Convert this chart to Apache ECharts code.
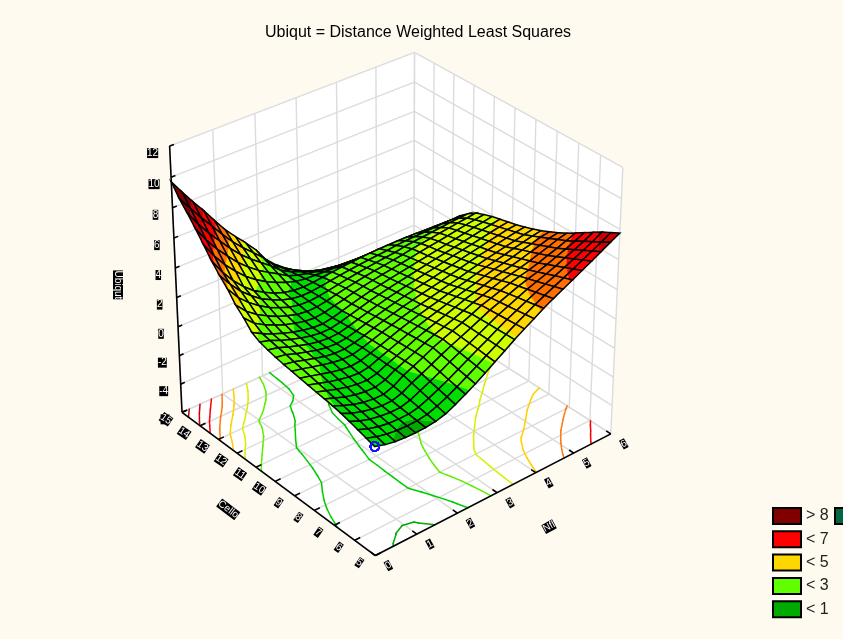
<!doctype html>
<html><head><meta charset="utf-8">
<style>html,body{margin:0;background:#fffaf0}</style>
<script src="https://cdn.jsdelivr.net/npm/echarts@6/dist/echarts.min.js"></script>
</head><body><div id="c" style="width:843px;height:639px"></div>
<script>
const titleText='Ubiqut = Distance Weighted Least Squares';
const xTicks=[0,1,2,3,4,5,6];
const yTicks=[5,6,7,8,9,10,11,12,13,14,15];
const zTicks=[-6,-4,-2,0,2,4,6,8,10,12];
const xName='Nfl', yName='Cello', zName='Ubiqut';
const legendNames=['> 8','< 7','< 5','< 3','< 1','< -1'];
const legendColors=['#800000','#ff0000','#ffd700','#60ff00','#00aa00','#006644'];
const bandEdges=[-1,0,1,2,3,4,5,6,7,8];
const bandColors=['#006644','#008a22','#00aa00','#00dd00','#60ff00','#ccff00','#ffd700','#ff6f00','#ff0000','#cc0000','#800000'];
// rows: y = 5 .. 15 in 25 steps, columns: x = 0 .. 6 in 25 steps
const zRows=[
[1.30,1.10,.97,.91,.90,.92,1.00,1.18,1.48,1.84,2.22,2.63,3.06,3.48,3.92,4.32,4.70,5.09,5.43,5.76,6.08,6.41,6.74,7.08,7.42,7.75],
[1.46,1.23,1.08,.99,.96,.98,1.09,1.31,1.61,1.96,2.33,2.71,3.11,3.49,3.90,4.28,4.62,4.97,5.29,5.58,5.87,6.17,6.48,6.79,7.11,7.45],
[1.62,1.36,1.18,1.07,1.03,1.04,1.18,1.45,1.75,2.08,2.44,2.80,3.16,3.51,3.88,4.23,4.54,4.85,5.15,5.41,5.66,5.93,6.21,6.50,6.79,7.15],
[1.78,1.49,1.29,1.16,1.09,1.10,1.27,1.58,1.88,2.21,2.56,2.88,3.20,3.52,3.86,4.19,4.46,4.74,5.00,5.23,5.44,5.68,5.95,6.20,6.48,6.80],
[1.93,1.62,1.40,1.24,1.15,1.16,1.36,1.72,2.02,2.33,2.67,2.97,3.25,3.54,3.84,4.14,4.38,4.62,4.86,5.06,5.23,5.44,5.68,5.91,6.16,6.45],
[2.04,1.75,1.50,1.32,1.22,1.22,1.45,1.85,2.15,2.45,2.78,3.05,3.30,3.55,3.82,4.10,4.30,4.50,4.72,4.88,5.02,5.20,5.42,5.62,5.85,6.09],
[2.12,1.86,1.62,1.45,1.34,1.32,1.50,1.86,2.14,2.42,2.72,2.98,3.21,3.44,3.69,3.94,4.13,4.32,4.53,4.69,4.83,5.00,5.20,5.39,5.60,5.75],
[2.20,1.97,1.75,1.57,1.45,1.41,1.56,1.86,2.12,2.39,2.67,2.91,3.13,3.34,3.56,3.79,3.97,4.15,4.34,4.50,4.64,4.80,4.98,5.15,5.34,5.45],
[2.28,2.08,1.87,1.70,1.57,1.51,1.61,1.87,2.11,2.36,2.61,2.84,3.04,3.23,3.43,3.63,3.80,3.97,4.16,4.32,4.46,4.60,4.77,4.92,5.09,5.18],
[2.36,2.19,2.00,1.82,1.68,1.60,1.67,1.87,2.09,2.33,2.56,2.77,2.96,3.13,3.30,3.48,3.64,3.80,3.97,4.13,4.27,4.40,4.55,4.68,4.83,4.92],
[2.45,2.30,2.12,1.95,1.80,1.70,1.72,1.88,2.08,2.30,2.50,2.70,2.87,3.02,3.17,3.32,3.47,3.62,3.78,3.94,4.08,4.20,4.33,4.45,4.58,4.70],
[2.53,2.40,2.20,2.01,1.84,1.73,1.72,1.84,2.02,2.24,2.43,2.62,2.79,2.94,3.08,3.22,3.36,3.50,3.65,3.80,3.94,4.05,4.18,4.30,4.42,4.50],
[2.63,2.51,2.27,2.07,1.89,1.76,1.72,1.80,1.97,2.17,2.36,2.55,2.71,2.85,2.99,3.12,3.25,3.39,3.52,3.66,3.79,3.91,4.03,4.15,4.27,4.33],
[2.76,2.61,2.35,2.13,1.93,1.79,1.72,1.76,1.91,2.11,2.29,2.47,2.63,2.77,2.90,3.02,3.15,3.27,3.40,3.53,3.65,3.76,3.88,4.00,4.11,4.19],
[2.92,2.72,2.42,2.19,1.98,1.82,1.72,1.72,1.86,2.04,2.22,2.40,2.55,2.68,2.81,2.92,3.04,3.16,3.27,3.39,3.50,3.62,3.73,3.85,3.96,4.05],
[3.20,2.82,2.50,2.25,2.02,1.85,1.72,1.68,1.80,1.98,2.15,2.32,2.47,2.60,2.72,2.82,2.93,3.04,3.14,3.25,3.36,3.47,3.58,3.70,3.80,3.90],
[3.80,3.15,2.75,2.44,2.16,1.96,1.80,1.73,1.81,1.96,2.12,2.28,2.42,2.54,2.65,2.74,2.84,2.94,3.05,3.15,3.24,3.34,3.44,3.54,3.63,3.72],
[4.30,3.59,3.09,2.70,2.36,2.11,1.91,1.81,1.83,1.94,2.08,2.22,2.35,2.46,2.56,2.64,2.73,2.82,2.94,3.02,3.10,3.19,3.27,3.35,3.42,3.50],
[5.00,4.15,3.53,3.03,2.61,2.31,2.05,1.90,1.86,1.92,2.01,2.13,2.24,2.34,2.43,2.50,2.57,2.63,2.75,2.82,2.87,2.93,2.98,3.04,3.08,3.12],
[5.56,4.68,3.94,3.35,2.84,2.49,2.18,1.98,1.88,1.88,1.95,2.05,2.14,2.22,2.28,2.34,2.39,2.43,2.51,2.55,2.57,2.59,2.61,2.63,2.63,2.65],
[6.18,5.15,4.30,3.62,3.05,2.65,2.30,2.06,1.90,1.85,1.88,1.95,2.02,2.08,2.13,2.17,2.20,2.22,2.22,2.22,2.20,2.18,2.15,2.12,2.08,2.05],
[6.91,5.87,5.01,4.30,3.66,3.16,2.73,2.40,2.12,1.89,1.78,1.74,1.70,1.67,1.65,1.64,1.63,1.62,1.59,1.57,1.53,1.50,1.47,1.44,1.41,1.45],
[7.62,6.59,5.72,4.97,4.26,3.67,3.16,2.74,2.34,1.93,1.69,1.52,1.38,1.26,1.18,1.12,1.07,1.02,.96,.92,.87,.83,.79,.76,.75,.78],
[8.30,7.31,6.43,5.65,4.87,4.18,3.59,3.07,2.56,1.97,1.59,1.31,1.06,.84,.70,.59,.50,.42,.33,.26,.20,.15,.11,.08,.08,.05],
[8.92,8.03,7.14,6.32,5.47,4.69,4.02,3.41,2.78,2.01,1.50,1.09,.74,.43,.23,.07,-.07,-.18,-.30,-.39,-.47,-.53,-.57,-.60,-.59,-.60],
[9.70,8.75,7.85,7.00,6.08,5.20,4.45,3.75,3.00,2.05,1.40,.88,.42,.02,-.25,-.46,-.63,-.78,-.92,-1.04,-1.13,-1.20,-1.25,-1.27,-1.25,-1.20]
];
// temporary: circle marks read as picture positions, resolved on the surface
const seen=[[236,255],[264,293],[261,305],[262,319],[303,313],[287,329],[292,333],[320,326],[316,332],[301,337],[307,341],[292,345],[314,344],[323,344],[313,350],[336,345],[335,348],[337,354],[289,356],[297,357],[318,360],[322,361],[334,374],[352,304],[368,292],[355,329],[373,326],[376,326],[374,342],[376,359],[364,402],[373,422],[376,418],[371,423],[376,427],[387,432],[395,413],[495,258],[419,291],[402,310],[427,345]];
const seenUnder=[[292,372],[303,382]];

const N=zRows.length-1, X0=xTicks[0],X1=xTicks[xTicks.length-1],Y0=yTicks[0],Y1=yTicks[yTicks.length-1],Z0=zTicks[0],Z1=zTicks[zTicks.length-1];
const nodeX=i=>X0+(X1-X0)*i/N, nodeY=j=>Y0+(Y1-Y0)*j/N;

// camera fitted to the box corners
const anchors=[[X0,Y0,Z0,375,556],[X1,Y0,Z0,611,433],[X0,Y1,Z0,182,412],[X1,Y1,Z0,414,308],[X0,Y1,Z1,170,146],[X1,Y0,Z1,623,168],[X1,Y1,Z1,414,52]];
function fitCamera(){
  const A=[],b=[];
  anchors.forEach(([x,y,z,u,v])=>{
    A.push([x,y,z,1,0,0,0,0,-u*x,-u*y,-u*z]);b.push(u);
    A.push([0,0,0,0,x,y,z,1,-v*x,-v*y,-v*z]);b.push(v);
  });
  const n=11,M=[];
  for(let r=0;r<n;r++){M.push([]);for(let c=0;c<n;c++){let s=0;A.forEach(a=>s+=a[r]*a[c]);M[r].push(s);}let s=0;A.forEach((a,k)=>s+=a[r]*b[k]);M[r].push(s);}
  for(let c=0;c<n;c++){let p=c;for(let r=c+1;r<n;r++)if(Math.abs(M[r][c])>Math.abs(M[p][c]))p=r;[M[c],M[p]]=[M[p],M[c]];
    for(let r=0;r<n;r++)if(r!==c){const f=M[r][c]/M[c][c];for(let k=c;k<=n;k++)M[r][k]-=f*M[c][k];}}
  return M.map((row,i)=>row[n]/row[i]);
}
const P=fitCamera();
function project(x,y,z){const w=P[8]*x+P[9]*y+P[10]*z+1;return [(P[0]*x+P[1]*y+P[2]*z+P[3])/w,(P[4]*x+P[5]*y+P[6]*z+P[7])/w];}

// resolve seen
function surf(fi,fj){const i=Math.min(N-1,Math.floor(fi)),j=Math.min(N-1,Math.floor(fj)),a=fi-i,b=fj-j;return (1-a)*(1-b)*zRows[j][i]+a*(1-b)*zRows[j][i+1]+(1-a)*b*zRows[j+1][i]+a*b*zRows[j+1][i+1];}
function resolve(s,dz){let best=null,bd=1e9;for(let a=0;a<=N;a+=.1)for(let b=0;b<=N;b+=.1){const z=surf(a,b)+dz,p=project(nodeX(a),nodeY(b),z),d=Math.hypot(p[0]-s[0],p[1]-s[1]);if(d<1.5&&(a+b)<(best?best[3]:1e9)||(!best&&d<bd)){if(d<bd||d<1.5){best=[nodeX(a),nodeY(b),z,a+b];bd=d;}}}return best;}
const pointsTop=seen.map(s=>resolve(s,0).slice(0,3));
const pointsUnder=seenUnder.map(s=>{const p=project(0,0,0);return resolve(s,0).slice(0,3);});

const wallPolys=[[X0,Y1,Z0,X1,Y1,Z0,X1,Y1,Z1,X0,Y1,Z1],[X1,Y0,Z0,X1,Y1,Z0,X1,Y1,Z1,X1,Y0,Z1],[X0,Y0,Z0,X1,Y0,Z0,X1,Y1,Z0,X0,Y1,Z0]];
const gridSegs=[];
xTicks.forEach(x=>{gridSegs.push([x,Y1,Z0,x,Y1,Z1],[x,Y0,Z0,x,Y1,Z0]);});
yTicks.forEach(y=>{gridSegs.push([X1,y,Z0,X1,y,Z1],[X0,y,Z0,X1,y,Z0]);});
zTicks.forEach(z=>{gridSegs.push([X0,Y1,z,X1,Y1,z],[X1,Y0,z,X1,Y1,z]);});
const axisSegs=[[X0,Y1,Z0,X0,Y1,Z1],[X0,Y0,Z0,X0,Y1,Z0],[X0,Y0,Z0,X1,Y0,Z0]];
xTicks.forEach(x=>axisSegs.push([x,Y0,Z0,x,Y0+.22,Z0]));
yTicks.forEach(y=>axisSegs.push([X0,y,Z0,X0+.13,y,Z0]));
zTicks.forEach(z=>axisSegs.push([X0,Y1,z,X0+.1,Y1,z]));

// contour lines on the floor, from the surface values
const contourSegs=[];
bandEdges.concat([9]).forEach((lv,li)=>{
  for(let j=0;j<N;j++)for(let i=0;i<N;i++){
    const c=[[i,j],[i+1,j],[i+1,j+1],[i,j+1]],pts=[];
    for(let k=0;k<4;k++){const [a,b]=[c[k],c[(k+1)%4]],za=zRows[a[1]][a[0]],zb=zRows[b[1]][b[0]];
      if((za<lv)!==(zb<lv)){const t=(lv-za)/(zb-za);pts.push([nodeX(a[0]+t*(b[0]-a[0])),nodeY(a[1]+t*(b[1]-a[1]))]);}}
    for(let k=0;k+1<pts.length;k+=2)contourSegs.push([pts[k][0],pts[k][1],pts[k+1][0],pts[k+1][1],li]);
  }
});
const contourColors=['#006644','#008a22','#00aa00','#00cc00','#60ee00','#d8f000','#ffd000','#ff7a10','#ff0000','#cc0000','#a01010'];

const cells=[];for(let i=N-1;i>=0;i--)for(let j=N-1;j>=0;j--)cells.push([i,j]);

function clipBand(poly,lo,hi){
  const clip=(pl,keep,lv)=>{const out=[];pl.forEach((p,k)=>{const q=pl[(k+1)%pl.length],kp=keep(p[2]),kq=keep(q[2]);
    if(kp)out.push(p);if(kp!==kq){const t=(lv-p[2])/(q[2]-p[2]);out.push([p[0]+t*(q[0]-p[0]),p[1]+t*(q[1]-p[1]),lv]);}});return out;};
  let r=poly;
  if(lo>-1e8)r=clip(r,z=>z>=lo,lo);
  if(r.length&&hi<1e8)r=clip(r,z=>z<=hi,hi);
  return r;
}
const base={type:'custom',coordinateSystem:'cartesian2d',silent:true,animation:false,clip:false};
function segSeries(data,style,z){return Object.assign({},base,{z,data,encode:{x:0,y:1},renderItem(p,api){
  const a=api.coord(project(api.value(0),api.value(1),api.value(2))),b=api.coord(project(api.value(3),api.value(4),api.value(5)));
  return {type:'line',shape:{x1:a[0],y1:a[1],x2:b[0],y2:b[1]},style};}});}
const labelStyle={fill:'#fff',backgroundColor:'#000',font:'10px "Liberation Sans"',align:'center',verticalAlign:'middle'};
function textSeries(items,z){return Object.assign({},base,{z,data:items.map((t,k)=>[k]),renderItem(p,api){
  const t=items[api.value(0)],a=api.coord(project(t.at[0],t.at[1],t.at[2]));
  return {type:'text',x:a[0]+t.off[0],y:a[1]+t.off[1],rotation:t.rot||0,style:Object.assign({},labelStyle,{text:t.text},t.style||{})};}});}
function pointSeries(data,z){return Object.assign({},base,{z,data,renderItem(p,api){
  const a=api.coord(project(api.value(0),api.value(1),api.value(2)));
  return {type:'circle',shape:{cx:a[0],cy:a[1],r:4.4},style:{fill:'none',stroke:'#1414ff',lineWidth:1.3}};}});}

const labels=[];
zTicks.forEach(v=>labels.push({text:String(v),at:[X0,Y1,v],off:[-17,7]}));
yTicks.forEach(v=>labels.push({text:String(v),at:[X0,v,Z0],off:[-16,7],rot:-.6}));
xTicks.forEach(v=>labels.push({text:String(v),at:[v,Y0,Z0],off:[13,10],rot:.5}));
labels.push({text:zName,at:[X0,Y1,3],off:[-58,2],rot:-Math.PI/2});
labels.push({text:yName,at:[X0,10,Z0],off:[-47,28],rot:-.65});
labels.push({text:xName,at:[3,Y0,Z0],off:[52,34],rot:.5});

const series=[
 Object.assign({},base,{z:1,data:wallPolys,renderItem(p,api){const pts=[];for(let k=0;k<4;k++)pts.push(api.coord(project(api.value(3*k),api.value(3*k+1),api.value(3*k+2))));
   return {type:'polygon',shape:{points:pts},style:{fill:'#fff'}};}}),
 segSeries(gridSegs,{stroke:'#dcdcdc',lineWidth:1.4},2),
 Object.assign({},base,{z:3,data:contourSegs,renderItem(p,api){const a=api.coord(project(api.value(0),api.value(1),Z0)),b=api.coord(project(api.value(2),api.value(3),Z0));
   return {type:'line',shape:{x1:a[0],y1:a[1],x2:b[0],y2:b[1]},style:{stroke:contourColors[api.value(4)],lineWidth:1.5,lineCap:'round'}};}}),
 pointSeries(pointsUnder,4),
 Object.assign({},base,{z:5,data:cells,renderItem(p,api){
   const i=api.value(0),j=api.value(1);
   const poly=[[i,j],[i+1,j],[i+1,j+1],[i,j+1]].map(([a,b])=>{const z=zRows[b][a],s=api.coord(project(nodeX(a),nodeY(b),z));return [s[0],s[1],z];});
   const children=[];
   for(let k=0;k<bandColors.length;k++){const lo=k?bandEdges[k-1]:-1e9,hi=k<bandEdges.length?bandEdges[k]:1e9,r=clipBand(poly,lo,hi);
     if(r.length>2)children.push({type:'polygon',shape:{points:r.map(q=>[q[0],q[1]])},style:{fill:bandColors[k],stroke:bandColors[k],lineWidth:.4}});}
   children.push({type:'polygon',shape:{points:poly.map(q=>[q[0],q[1]])},style:{fill:'none',stroke:'#000',lineWidth:1.5}});
   return {type:'group',children};}}),
 pointSeries(pointsTop,6),
 segSeries(axisSegs,{stroke:'#000',lineWidth:1.6},7),
 textSeries(labels,8)
];
legendNames.forEach((n,k)=>series.push(Object.assign({},base,{name:n,z:0,data:[],itemStyle:{color:legendColors[k]},renderItem(){return {type:'group',children:[]};}})));

const chart=echarts.init(document.getElementById('c'),null,{renderer:'canvas'});
chart.setOption({
 animation:false,backgroundColor:'#fffaf0',
 title:{text:titleText,left:260,top:20,textStyle:{fontFamily:'Liberation Sans',fontSize:16,fontWeight:'normal',color:'#000'}},
 grid:{left:0,top:0,width:843,height:639},
 xAxis:{type:'value',min:0,max:843,show:false},
 yAxis:{type:'value',min:0,max:639,inverse:true,show:false},
 legend:{data:legendNames,orient:'vertical',left:772,top:507,padding:0,itemWidth:28,itemHeight:16,itemGap:5.3,selectedMode:false,icon:'rect',
   itemStyle:{borderColor:'#000',borderWidth:2},textStyle:{fontFamily:'Liberation Sans',fontSize:16,color:'#222',lineHeight:16}},
 series
});
</script></body></html>
